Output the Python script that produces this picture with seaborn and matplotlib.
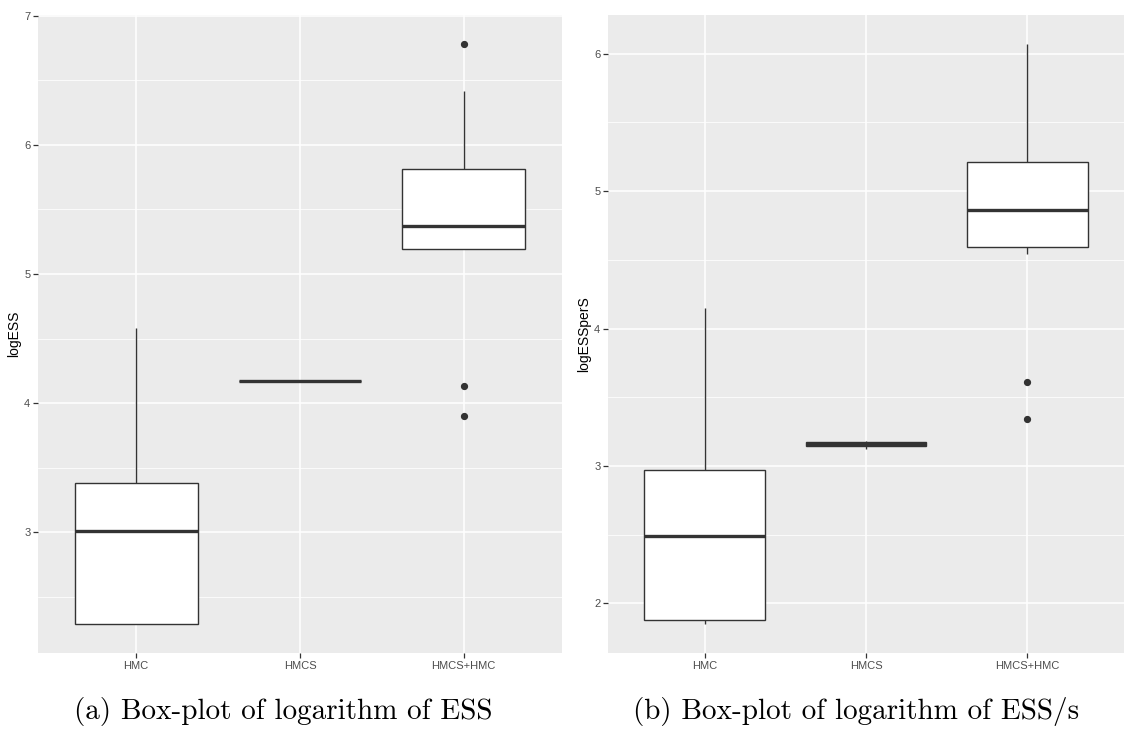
import numpy as np
import pandas as pd
import matplotlib
matplotlib.use("Agg")
import matplotlib.pyplot as plt
import seaborn as sns
from matplotlib.ticker import MultipleLocator

# ---------------- data ----------------
methods = ["HMC", "HMCS", "HMCS+HMC"]

ess_hmc = [2.29, 2.29, 3.01, 3.38, 4.58]
ess_hmcs = [4.17, 4.17, 4.17, 4.17, 4.17]
ess_hmcs_hmc = [3.90, 4.13, 5.19, 5.19, 5.25, 5.31, 5.37, 5.45, 5.60, 5.81, 6.05, 6.42, 6.78]

esss_hmc = [1.85, 1.88, 2.49, 2.97, 4.15]
esss_hmcs = [3.12, 3.145, 3.16, 3.172, 3.18]
esss_hmcs_hmc = [3.34, 3.61, 4.54, 4.59, 4.68, 4.77, 4.86, 4.95, 5.08, 5.21, 5.55, 5.80, 6.07]

y_labels = ["logESS", "logESSperS"]
captions = ["(a) Box-plot of logarithm of ESS", "(b) Box-plot of logarithm of ESS/s"]

# ---------------- figure ----------------
W, H = 1125, 738
fig = plt.figure(figsize=(W / 100, H / 100), dpi=100)
fig.patch.set_facecolor("white")

ax_rects = [
    [38 / W, (H - 653) / H, 524 / W, 638 / H],
    [608 / W, (H - 653) / H, 516 / W, 638 / H],
]
panels = [
    [ess_hmc, ess_hmcs, ess_hmcs_hmc],
    [esss_hmc, esss_hmcs, esss_hmcs_hmc],
]
caption_x = [283 / W, 856 / W]

dark = "#333333"
for rect, groups, ylab, cap, cx in zip(ax_rects, panels, y_labels, captions, caption_x):
    ax = fig.add_axes(rect)
    df = pd.DataFrame({
        "method": np.repeat(methods, [len(g) for g in groups]),
        ylab: np.concatenate(groups),
    })
    sns.boxplot(
        data=df, x="method", y=ylab, order=methods, ax=ax,
        color="white", linecolor=dark, saturation=1, width=0.75,
        linewidth=1.0, fliersize=4.2, whis=1.5,
        medianprops=dict(linewidth=2.4, color=dark),
        capprops=dict(linewidth=0),
        flierprops=dict(marker="o", markerfacecolor=dark, markeredgecolor=dark),
    )
    allv = np.concatenate(groups)
    lo, hi = allv.min(), allv.max()
    pad = 0.05 * (hi - lo)
    ax.set_ylim(lo - pad, hi + pad)
    ax.set_xlim(-0.6, len(methods) - 0.4)

    ax.set_facecolor("#EBEBEB")
    for s in ax.spines.values():
        s.set_visible(False)
    ax.yaxis.set_major_locator(MultipleLocator(1))
    ax.yaxis.set_minor_locator(MultipleLocator(0.5))
    ax.set_axisbelow(True)
    ax.grid(True, which="major", axis="both", color="white", linewidth=1.1)
    ax.grid(True, which="minor", axis="y", color="white", linewidth=0.55)
    ax.tick_params(which="major", length=3.5, width=0.9, color=dark,
                   labelsize=8, labelcolor="#4D4D4D", pad=2)
    ax.tick_params(which="minor", length=0)
    for lab in ax.get_xticklabels() + ax.get_yticklabels():
        lab.set_fontfamily(["Liberation Sans", "DejaVu Sans"])
    ax.set_xlabel("")
    ax.set_ylabel(ylab, fontsize=10, color="black", family=["Liberation Sans", "DejaVu Sans"], labelpad=2)

    fig.text(cx, 0.036, cap, ha="center", va="center", fontsize=21, family=["cmr10", "DejaVu Serif"])

fig.savefig("out.png", dpi=100, facecolor="white")
